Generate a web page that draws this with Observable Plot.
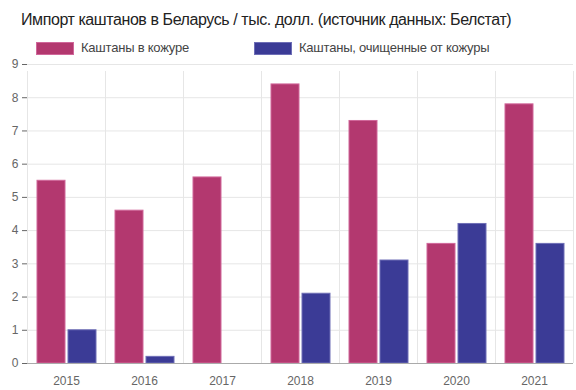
<!DOCTYPE html>
<html><head><meta charset="utf-8">
<script src="https://cdn.jsdelivr.net/npm/d3@7"></script>
<script src="https://cdn.jsdelivr.net/npm/@observablehq/plot@0.6"></script>
<style>
body{margin:0;width:576px;height:390px;background:#fff;font-family:"Liberation Sans",Arial,sans-serif;position:relative;overflow:hidden}
#title{position:absolute;left:21px;top:11px;white-space:nowrap;font-size:16px;letter-spacing:-0.42px;color:#222;line-height:18px}
.leg{position:absolute;top:41px;display:flex;align-items:center;font-size:13px;letter-spacing:-0.22px;color:#444;white-space:nowrap;line-height:14px}
.sw{width:36px;height:11px;margin-right:7px;border:1px solid}
#chart{position:absolute;left:0;top:58px}
#chart [aria-label="y-axis tick"]{stroke:#d9d9d9}
</style></head>
<body>
<div id="title">Импорт каштанов в Беларусь / тыс. долл. (источник данных: Белстат)</div>
<div id="legend"></div>
<div id="chart"></div>
<script>
const years = ["2015","2016","2017","2018","2019","2020","2021"];
const seriesNames = ["Каштаны в кожуре","Каштаны, очищенные от кожуры"];
const inShell = [5.5,4.6,5.6,8.4,7.3,3.6,7.8];
const shelled = [1.0,0.2,0,2.1,3.1,4.2,3.6];
const yTicks = [0,1,2,3,4,5,6,7,8,9];
const fills = ["#b3386f","#3b3b96"];
const strokes = ["#d0679a","#6e6eb6"];

const data = years.flatMap((y,i)=>[
  {year:y, series:seriesNames[0], value:inShell[i]},
  {year:y, series:seriesNames[1], value:shelled[i]}
]);

// legend
const legLeft = [36, 254];
const leg = document.getElementById("legend");
seriesNames.forEach((s,i)=>{
  const d = document.createElement("div");
  d.className = "leg";
  d.style.left = legLeft[i] + "px";
  d.innerHTML = `<div class="sw" style="background:${fills[i]};border-color:${strokes[i]}"></div><span>${s}</span>`;
  leg.appendChild(d);
});

const W = 576, H = 332, mL = 27, mR = 3, mT = 6, mB = 27;
const step = (W - mL - mR) / years.length;
const strokeOf = s => strokes[seriesNames.indexOf(s)];

const chart = Plot.plot({
  width: W, height: H,
  marginLeft: mL, marginRight: mR, marginTop: mT, marginBottom: mB,
  style: {fontFamily: '"Liberation Sans", Arial, sans-serif', fontSize: "12px", color: "#666", background: "transparent", overflow: "visible"},
  fx: {domain: years, padding: 0, label: null, tickSize: 0, tickPadding: 13},
  x: {domain: seriesNames, paddingInner: 0.1, paddingOuter: 0.3, axis: null},
  y: {domain: [0, 9], ticks: yTicks, label: null, tickSize: 5, tickPadding: 4},
  color: {domain: seriesNames, range: fills},
  marks: [
    Plot.ruleY(yTicks, {stroke: "#e6e6e6"}),
    Plot.ruleX(years, {fx: d => d, x: null, y1: 0, y2: 9, dx: -step/2, insetBottom: -7, stroke: "#e6e6e6"}),
    Plot.ruleX(years.slice(-1), {fx: d => d, x: null, y1: 0, y2: 9, dx: step/2, insetBottom: -7, stroke: "#e6e6e6"}),
    Plot.barY(data, {fx: "year", x: "series", y: "value", fill: "series", stroke: d => strokeOf(d.series), strokeWidth: 1, filter: d => d.value > 0}),
    Plot.ruleY([0], {stroke: "#aaaaaa"})
  ]
});
document.getElementById("chart").appendChild(chart);
</script>
</body></html>
